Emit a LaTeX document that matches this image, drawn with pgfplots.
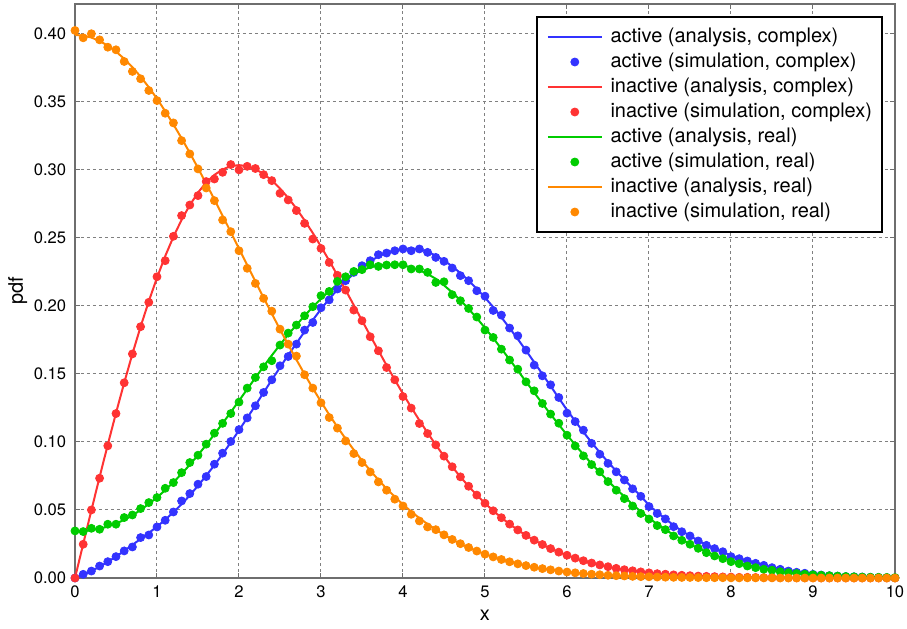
\documentclass[border=0pt]{standalone}
\usepackage{fontspec}
\setmainfont{TeX Gyre Heros}
\usepackage{pgfplots}
\usepackage{pgfplotstable}
\pgfplotsset{compat=1.18}

\definecolor{cblue}{RGB}{51,51,255}
\definecolor{cred}{RGB}{255,51,51}
\definecolor{cgreen}{RGB}{0,204,0}
\definecolor{corange}{RGB}{255,136,0}
\definecolor{axgray}{RGB}{110,110,110}

% b = active complex, r = inactive complex, g = active real, o = inactive real
% a = analysis, s = simulation
\pgfplotstableread{
x ba bs ra rs ga gs oa os
0.0 0.0000 0.0000 0.0000 0.0000 0.0345 0.0346 0.3989 0.4022
0.1 0.0024 0.0027 0.0250 0.0248 0.0346 0.0341 0.3984 0.3968
0.2 0.0051 0.0051 0.0498 0.0500 0.0351 0.0365 0.3970 0.3998
0.3 0.0083 0.0088 0.0742 0.0733 0.0362 0.0358 0.3945 0.3953
0.4 0.0119 0.0120 0.0980 0.0971 0.0378 0.0395 0.3910 0.3899
0.5 0.0157 0.0157 0.1212 0.1208 0.0400 0.0395 0.3867 0.3880
0.6 0.0199 0.0199 0.1434 0.1434 0.0427 0.0444 0.3814 0.3794
0.7 0.0243 0.0228 0.1646 0.1646 0.0460 0.0463 0.3752 0.3721
0.8 0.0287 0.0297 0.1846 0.1846 0.0500 0.0510 0.3683 0.3667
0.9 0.0331 0.0316 0.2033 0.2025 0.0544 0.0554 0.3605 0.3581
1.0 0.0377 0.0375 0.2206 0.2213 0.0592 0.0591 0.3521 0.3507
1.1 0.0428 0.0424 0.2364 0.2331 0.0645 0.0659 0.3429 0.3414
1.2 0.0483 0.0485 0.2506 0.2510 0.0703 0.0701 0.3332 0.3343
1.3 0.0542 0.0566 0.2631 0.2662 0.0765 0.0774 0.3230 0.3213
1.4 0.0607 0.0620 0.2739 0.2740 0.0832 0.0848 0.3123 0.3115
1.5 0.0678 0.0689 0.2831 0.2809 0.0903 0.0902 0.3011 0.3005
1.6 0.0752 0.0745 0.2905 0.2912 0.0978 0.0983 0.2897 0.2865
1.7 0.0829 0.0836 0.2961 0.2931 0.1056 0.1064 0.2780 0.2772
1.8 0.0910 0.0917 0.3001 0.2980 0.1136 0.1136 0.2661 0.2630
1.9 0.0996 0.1003 0.3025 0.3037 0.1218 0.1208 0.2541 0.2544
2.0 0.1085 0.1090 0.3033 0.2998 0.1302 0.1292 0.2420 0.2404
2.1 0.1176 0.1176 0.3025 0.3024 0.1387 0.1395 0.2299 0.2275
2.2 0.1268 0.1265 0.3003 0.3008 0.1471 0.1473 0.2178 0.2164
2.3 0.1362 0.1363 0.2968 0.2963 0.1554 0.1551 0.2059 0.2054
2.4 0.1455 0.1456 0.2921 0.2919 0.1635 0.1596 0.1942 0.1960
2.5 0.1547 0.1559 0.2861 0.2826 0.1713 0.1711 0.1826 0.1828
2.6 0.1637 0.1627 0.2792 0.2777 0.1788 0.1799 0.1714 0.1718
2.7 0.1724 0.1718 0.2714 0.2699 0.1859 0.1858 0.1604 0.1630
2.8 0.1810 0.1821 0.2627 0.2605 0.1926 0.1926 0.1497 0.1493
2.9 0.1895 0.1877 0.2534 0.2490 0.1991 0.1993 0.1394 0.1395
3.0 0.1975 0.1985 0.2435 0.2421 0.2052 0.2074 0.1295 0.1287
3.1 0.2050 0.2043 0.2331 0.2318 0.2107 0.2105 0.1200 0.1179
3.2 0.2118 0.2123 0.2224 0.2224 0.2156 0.2179 0.1109 0.1101
3.3 0.2180 0.2184 0.2115 0.2115 0.2198 0.2213 0.1023 0.1007
3.4 0.2236 0.2245 0.2004 0.1968 0.2233 0.2252 0.0941 0.0914
3.5 0.2285 0.2294 0.1892 0.1890 0.2261 0.2265 0.0863 0.0848
3.6 0.2327 0.2331 0.1781 0.1772 0.2282 0.2301 0.0790 0.0779
3.7 0.2362 0.2375 0.1671 0.1669 0.2296 0.2289 0.0721 0.0706
3.8 0.2389 0.2387 0.1562 0.1546 0.2303 0.2299 0.0656 0.0645
3.9 0.2408 0.2404 0.1456 0.1456 0.2303 0.2301 0.0596 0.0579
4.0 0.2419 0.2417 0.1353 0.1333 0.2296 0.2301 0.0540 0.0529
4.1 0.2421 0.2404 0.1254 0.1248 0.2282 0.2270 0.0488 0.0468
4.2 0.2414 0.2417 0.1158 0.1135 0.2261 0.2270 0.0440 0.0419
4.3 0.2396 0.2392 0.1066 0.1061 0.2233 0.2245 0.0396 0.0375
4.4 0.2368 0.2355 0.0978 0.0978 0.2198 0.2171 0.0355 0.0355
4.5 0.2333 0.2326 0.0895 0.0895 0.2150 0.2176 0.0317 0.0317
4.6 0.2289 0.2277 0.0817 0.0817 0.2098 0.2081 0.0283 0.0283
4.7 0.2240 0.2221 0.0743 0.0743 0.2040 0.2037 0.0252 0.0252
4.8 0.2185 0.2184 0.0674 0.0674 0.1977 0.1980 0.0224 0.0224
4.9 0.2125 0.2110 0.0609 0.0609 0.1909 0.1917 0.0198 0.0198
5.0 0.2060 0.2070 0.0549 0.0549 0.1837 0.1821 0.0175 0.0175
5.1 0.1990 0.1965 0.0494 0.0494 0.1762 0.1767 0.0155 0.0155
5.2 0.1915 0.1931 0.0443 0.0443 0.1684 0.1681 0.0136 0.0136
5.3 0.1836 0.1836 0.0396 0.0396 0.1605 0.1601 0.0119 0.0119
5.4 0.1755 0.1779 0.0353 0.0353 0.1524 0.1534 0.0104 0.0104
5.5 0.1671 0.1674 0.0313 0.0313 0.1443 0.1441 0.0091 0.0091
5.6 0.1585 0.1564 0.0278 0.0278 0.1362 0.1375 0.0079 0.0079
5.7 0.1498 0.1485 0.0246 0.0246 0.1282 0.1282 0.0069 0.0069
5.8 0.1410 0.1419 0.0216 0.0216 0.1203 0.1204 0.0060 0.0060
5.9 0.1322 0.1326 0.0190 0.0190 0.1126 0.1137 0.0051 0.0051
6.0 0.1234 0.1211 0.0167 0.0167 0.1051 0.1049 0.0044 0.0044
6.1 0.1152 0.1149 0.0146 0.0146 0.0978 0.0970 0.0038 0.0038
6.2 0.1072 0.1086 0.0127 0.0127 0.0907 0.0897 0.0033 0.0033
6.3 0.0996 0.0989 0.0110 0.0110 0.0840 0.0833 0.0028 0.0028
6.4 0.0922 0.0909 0.0096 0.0096 0.0775 0.0780 0.0024 0.0024
6.5 0.0852 0.0842 0.0083 0.0083 0.0713 0.0708 0.0020 0.0020
6.6 0.0786 0.0780 0.0071 0.0071 0.0654 0.0645 0.0017 0.0017
6.7 0.0722 0.0720 0.0061 0.0061 0.0598 0.0583 0.0015 0.0015
6.8 0.0661 0.0655 0.0053 0.0053 0.0540 0.0529 0.0012 0.0012
6.9 0.0602 0.0600 0.0045 0.0045 0.0488 0.0474 0.0010 0.0010
7.0 0.0535 0.0525 0.0038 0.0038 0.0440 0.0433 0.0009 0.0009
7.1 0.0482 0.0474 0.0032 0.0032 0.0396 0.0385 0.0007 0.0007
7.2 0.0435 0.0434 0.0028 0.0028 0.0355 0.0355 0.0006 0.0006
7.3 0.0387 0.0377 0.0023 0.0023 0.0317 0.0309 0.0005 0.0005
7.4 0.0346 0.0340 0.0020 0.0020 0.0283 0.0277 0.0004 0.0004
7.5 0.0309 0.0309 0.0017 0.0017 0.0248 0.0248 0.0004 0.0004
7.6 0.0275 0.0272 0.0014 0.0014 0.0219 0.0218 0.0003 0.0003
7.7 0.0244 0.0240 0.0012 0.0012 0.0192 0.0186 0.0002 0.0002
7.8 0.0216 0.0216 0.0010 0.0010 0.0168 0.0162 0.0002 0.0002
7.9 0.0190 0.0193 0.0008 0.0008 0.0146 0.0142 0.0002 0.0002
8.0 0.0166 0.0157 0.0007 0.0007 0.0127 0.0120 0.0001 0.0001
8.1 0.0145 0.0142 0.0005 0.0005 0.0110 0.0105 0.0001 0.0001
8.2 0.0126 0.0125 0.0005 0.0005 0.0095 0.0088 0.0001 0.0001
8.3 0.0109 0.0108 0.0004 0.0004 0.0082 0.0076 0.0001 0.0001
8.4 0.0094 0.0093 0.0003 0.0003 0.0070 0.0064 0.0001 0.0001
8.5 0.0080 0.0076 0.0003 0.0003 0.0060 0.0057 0.0001 0.0001
8.6 0.0068 0.0064 0.0002 0.0002 0.0051 0.0046 0.0000 0.0000
8.7 0.0058 0.0051 0.0002 0.0002 0.0043 0.0039 0.0000 0.0000
8.8 0.0049 0.0042 0.0001 0.0001 0.0036 0.0033 0.0000 0.0000
8.9 0.0041 0.0035 0.0001 0.0001 0.0031 0.0028 0.0000 0.0000
9.0 0.0034 0.0027 0.0001 0.0001 0.0026 0.0024 0.0000 0.0000
9.1 0.0028 0.0022 0.0000 0.0000 0.0021 0.0020 0.0000 0.0000
9.2 0.0023 0.0017 0.0000 0.0000 0.0018 0.0017 0.0000 0.0000
9.3 0.0019 0.0014 0.0000 0.0000 0.0015 0.0014 0.0000 0.0000
9.4 0.0015 0.0011 0.0000 0.0000 0.0012 0.0011 0.0000 0.0000
9.5 0.0012 0.0009 0.0000 0.0000 0.0010 0.0009 0.0000 0.0000
9.6 0.0010 0.0007 0.0000 0.0000 0.0008 0.0007 0.0000 0.0000
9.7 0.0008 0.0005 0.0000 0.0000 0.0007 0.0006 0.0000 0.0000
9.8 0.0006 0.0004 0.0000 0.0000 0.0005 0.0005 0.0000 0.0000
9.9 0.0005 0.0003 0.0000 0.0000 0.0004 0.0004 0.0000 0.0000
10.0 0.0004 0.0002 0.0000 0.0000 0.0003 0.0003 0.0000 0.0000
}\pdfdata

\begin{document}
\begin{tikzpicture}
\begin{axis}[
    scale only axis,
    width=410pt, height=287.25pt,
    xmin=0, xmax=10,
    ymin=0, ymax=0.422,
    xtick={0,1,2,3,4,5,6,7,8,9,10},
    ytick={0,0.05,0.1,0.15,0.2,0.25,0.3,0.35,0.4},
    yticklabel style={/pgf/number format/fixed, /pgf/number format/fixed zerofill, /pgf/number format/precision=2},
    /pgf/number format/assume math mode=true,
    tick label style={font=\fontsize{8.3}{10}\selectfont},
    y tick label style={inner sep=0pt, xshift=-4.2pt},
    x tick label style={inner sep=0pt, yshift=-3.85pt},
    tick align=inside,
    major tick length=2.5pt,
    tick style={axgray, line width=0.5pt},
    axis line style={axgray, line width=1pt},
    grid=major,
    major grid style={gray, line width=0.5pt, dash pattern=on 1.5pt off 1.5pt},
    xlabel={x}, ylabel={pdf},
    label style={font=\fontsize{10}{12}\selectfont},
    xlabel style={at={(axis description cs:0.5,-0.0748)}, anchor=base, inner sep=0pt},
    ylabel style={at={(axis description cs:-0.0637,0.5)}, anchor=base, inner sep=0pt},
    legend image code/.code={\draw[mark repeat=2,mark phase=2,#1] plot coordinates {(0pt,0pt) (13.5pt,0pt) (27pt,0pt)};},
    legend cell align=left,
    legend style={
        at={(1,1)}, anchor=north east, xshift=-6.2pt, yshift=-6.2pt,
        draw=black, line width=1pt, fill=white,
        font=\fontsize{10}{12}\selectfont,
        inner xsep=4.8pt, inner ysep=4.8pt,
        row sep=2pt, column sep=3.85pt,
        nodes={inner sep=0pt, text height=8pt, text depth=2.5pt},
    },
]
\addplot[cblue, line width=1pt] table[x=x, y=ba] {\pdfdata};
\addlegendentry{active (analysis, complex)}
\addplot[cblue, only marks, mark=*, mark size=2pt, mark options={line width=0.4pt}] table[x=x, y=bs] {\pdfdata};
\addlegendentry{active (simulation, complex)}
\addplot[cred, line width=1pt] table[x=x, y=ra] {\pdfdata};
\addlegendentry{inactive (analysis, complex)}
\addplot[cred, only marks, mark=*, mark size=2pt, mark options={line width=0.4pt}] table[x=x, y=rs] {\pdfdata};
\addlegendentry{inactive (simulation, complex)}
\addplot[cgreen, line width=1pt] table[x=x, y=ga] {\pdfdata};
\addlegendentry{active (analysis, real)}
\addplot[cgreen, only marks, mark=*, mark size=2pt, mark options={line width=0.4pt}] table[x=x, y=gs] {\pdfdata};
\addlegendentry{active (simulation, real)}
\addplot[corange, line width=1pt] table[x=x, y=oa] {\pdfdata};
\addlegendentry{inactive (analysis, real)}
\addplot[corange, only marks, mark=*, mark size=2pt, mark options={line width=0.4pt}] table[x=x, y=os] {\pdfdata};
\addlegendentry{inactive (simulation, real)}
\end{axis}
\pgfresetboundingbox
\path[use as bounding box] (-37.5pt,-25pt) rectangle (416pt,289pt);
\end{tikzpicture}
\end{document}
